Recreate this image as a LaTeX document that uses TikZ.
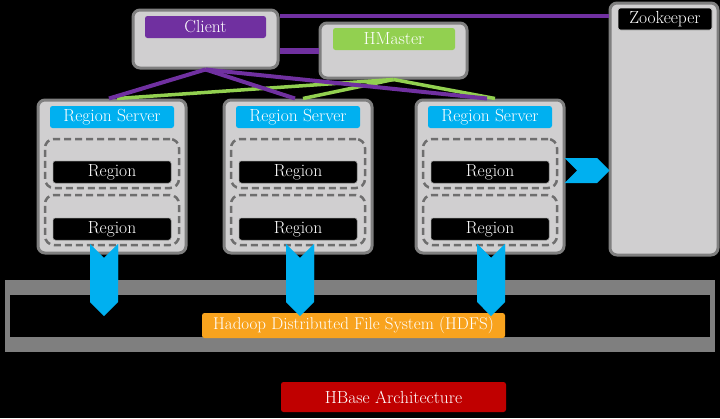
\documentclass[tikz,border=0pt]{standalone}
\usepackage{xcolor}
\usepackage{tikz}
\usetikzlibrary{positioning}
\usetikzlibrary{calc,arrows.meta}
\usetikzlibrary{shapes.symbols}

\definecolor{boxgray}{HTML}{D0CFD0}
\definecolor{edgegray}{HTML}{7F7F7F}
\definecolor{dashgray}{HTML}{6E6E6E}
\definecolor{clientpurple}{HTML}{7030A0}
\definecolor{mastergreen}{HTML}{92D050}
\definecolor{serverblue}{HTML}{00B0F0}
\definecolor{hdfsorange}{HTML}{F8A31E}
\definecolor{titlered}{HTML}{C00000}

\tikzset{
  every node/.style={font=\fontsize{17.5}{19}\selectfont},
  graybox/.style={draw=edgegray, fill=boxgray, line width=3pt, rounded corners=7pt, inner sep=0pt},
  tag/.style={text=white, rounded corners=2.5pt, inner sep=0pt, minimum height=22},
  regionbox/.style={draw=dashgray, line width=2.5pt, dash pattern=on 7pt off 4pt, rounded corners=9pt, inner sep=0pt},
  purpleline/.style={draw=clientpurple, line width=4pt},
  greenline/.style={draw=mastergreen, line width=3.5pt},
  downarrow/.style={signal, signal from=north, signal to=south, fill=serverblue, minimum width=28, minimum height=44, inner sep=0pt},
  rightarrow/.style={signal, signal from=west, signal to=east, fill=serverblue, minimum width=45, minimum height=25, inner sep=0pt}
}

\begin{document}
\begin{tikzpicture}[x=1pt,y=-1pt]
  % Define the dimensions of the servers
  \def\serverWidth{148}
  \def\serverHeight{153}
  \def\tagWidth{124}
  \def\dashWidth{134}
  \def\regionWidth{118}

  % the black page
  \fill[black] (0,0) rectangle (720,418);
  \useasboundingbox (0,0) rectangle (720,418);

  % client and master
  \node[graybox, minimum width=145, minimum height=58] (client) at (205.5,39) {};
  \node[tag, fill=clientpurple, minimum width=121] (clienttag) at (205.5,27) {Client};
  \node[graybox, minimum width=147, minimum height=55] (hmaster) at (393.5,50.5) {};
  \node[tag, fill=mastergreen, minimum width=122] (hmastertag) at (394,39) {HMaster};

  % zookeeper on the right
  \node[graybox, minimum width=108, minimum height=252] (zk) at (664,129) {};
  \node[tag, fill=black, draw=boxgray, line width=0.6pt, minimum width=94] (zktag) at (665,19) {Zookeeper};

  % the three region servers
  \foreach \i/\x/\a in {1/112/-8, 2/298/2, 3/490/1} {
  \begin{scope}[xshift=\x]
    \node[graybox, minimum width=\serverWidth, minimum height=\serverHeight] (rs\i) at (0,176.5) {};
    \node[tag, fill=serverblue, minimum width=\tagWidth] (rstag\i) at (0,117) {Region Server};
    \node[regionbox, minimum width=\dashWidth, minimum height=49] (dash\i a) at (0,163.5) {};
    \node[regionbox, minimum width=\dashWidth, minimum height=50] (dash\i b) at (0,220) {};
    \node[tag, fill=black, draw=gray, line width=0.5pt, minimum width=\regionWidth] (region\i a) at (0,172) {Region};
    \node[tag, fill=black, draw=gray, line width=0.5pt, minimum width=\regionWidth] (region\i b) at (0,229) {Region};
    \node[downarrow] (down\i) at (\a,280) {};
  \end{scope}
  }

  % hdfs frame and its label
  \node[fill=edgegray, minimum width=710, minimum height=72, inner sep=0pt] (hdfsframe) at (360,316) {};
  \node[fill=black, minimum width=700, minimum height=42, inner sep=0pt] (hdfsinner) at (360,316) {};
  \node[tag, fill=hdfsorange, minimum width=303, minimum height=25, font=\fontsize{17}{19}\selectfont] (hdfs) at (353.5,325.5) {Hadoop Distributed File System (HDFS)};
  \foreach \i in {1,2,3} {
    \node[downarrow] at (down\i) {};
  }

  % region server to zookeeper
  \node[rightarrow] (tozk) at ($(rs3.east)!0.5!(zk.west |- rs3.east)+(0,-6)$) {};

  % client and master to the servers
  \foreach \i in {1,2,3} {
    \draw[greenline] (hmaster.south) -- ([xshift=5pt]rs\i.north);
    \draw[purpleline] (client.south) -- ([xshift=-3pt]rs\i.north);
  }
  \draw[purpleline] ([yshift=-7pt]client.north east) -- ([yshift=-7pt]zk.west |- client.north east);
  \draw[purpleline, line width=6pt] (hmaster.west -| client.east) -- (hmaster.west);

  % title
  \node[tag, fill=titlered, minimum width=225, minimum height=30] (title) at (393.5,397) {HBase Architecture};

\end{tikzpicture}
\end{document}
